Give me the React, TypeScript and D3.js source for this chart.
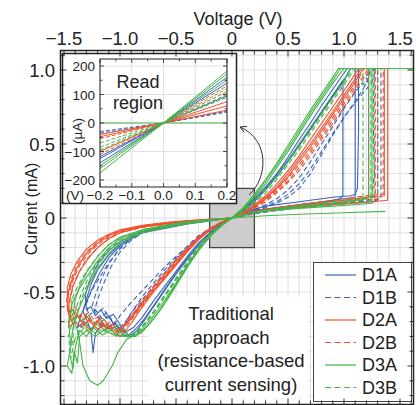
import React, { useEffect, useRef } from "react";
import * as d3 from "d3";

const width = 416;
const height = 405;
const font = "'Liberation Sans', Arial, sans-serif";

const devices = ["D1A", "D1B", "D2A", "D2B", "D3A", "D3B"];
const deviceColors = ["#3a64b8", "#3a64b8", "#f0502d", "#f0502d", "#44b549", "#44b549"];
const deviceDashed = [false, true, false, true, false, true];

// I-V sweeps, flat lists of voltage (V), current (mA) pairs
const d1aSweeps = [
  [0,0, 0.1,0.06, 0.2,0.13, 0.3,0.21, 0.4,0.3, 0.5,0.41, 0.6,0.53, 0.7,0.64, 0.8,0.76, 0.9,0.87, 1.0,0.98, 1.03,1.01,
   1.1,1.01, 1.1,0.55, 1.1,0.14,
   1.0,0.13, 0.8,0.11, 0.6,0.09, 0.4,0.07, 0.2,0.05, 0.1,0.03, 0,0,
   -0.2,-0.015, -0.4,-0.03, -0.6,-0.055, -0.8,-0.09, -0.9,-0.12, -1.0,-0.16, -1.1,-0.22, -1.2,-0.31, -1.27,-0.42, -1.31,-0.52,
   -1.3,-0.62, -1.26,-0.6, -1.22,-0.66, -1.17,-0.62, -1.12,-0.68, -1.06,-0.65, -1.0,-0.72, -0.95,-0.77,
   -0.88,-0.74, -0.8,-0.67, -0.7,-0.56, -0.6,-0.46, -0.5,-0.36, -0.4,-0.26, -0.3,-0.17, -0.2,-0.1, -0.1,-0.04, 0,0],
  [0,0, 0.1,0.05, 0.2,0.12, 0.3,0.2, 0.4,0.29, 0.5,0.39, 0.6,0.5, 0.7,0.61, 0.8,0.72, 0.9,0.83, 0.99,0.93,
   0.99,0.5, 0.99,0.15, 0.96,0.13,
   0.8,0.1, 0.6,0.08, 0.4,0.06, 0.2,0.04, 0.1,0.025, 0,0,
   -0.2,-0.02, -0.4,-0.04, -0.6,-0.07, -0.8,-0.1, -0.9,-0.13, -1.0,-0.18, -1.1,-0.25, -1.2,-0.35, -1.26,-0.45, -1.3,-0.55,
   -1.33,-0.63, -1.29,-0.7, -1.26,-0.76, -1.24,-0.91, -1.22,-0.78, -1.16,-0.72, -1.1,-0.75, -1.03,-0.73, -0.97,-0.79, -0.92,-0.8,
   -0.86,-0.77, -0.8,-0.71, -0.7,-0.6, -0.6,-0.49, -0.5,-0.38, -0.4,-0.28, -0.3,-0.19, -0.2,-0.11, -0.1,-0.05, 0,0],
  [0,0, 0.1,0.05, 0.2,0.11, 0.3,0.19, 0.4,0.28, 0.5,0.38, 0.6,0.49, 0.7,0.6, 0.8,0.71, 0.9,0.82, 1.0,0.93, 1.06,1.01,
   1.13,1.01, 1.13,0.6, 1.12,0.2, 1.1,0.16, 1.06,0.15,
   0.9,0.14, 0.7,0.12, 0.5,0.1, 0.3,0.08, 0.15,0.05, 0,0,
   -0.2,-0.015, -0.4,-0.035, -0.6,-0.06, -0.8,-0.1, -0.9,-0.14, -1.0,-0.19, -1.1,-0.27, -1.18,-0.37, -1.25,-0.48, -1.3,-0.57,
   -1.35,-0.66, -1.38,-0.74, -1.32,-0.7, -1.26,-0.75, -1.2,-0.7, -1.12,-0.74, -1.05,-0.71, -0.98,-0.76, -0.92,-0.79,
   -0.86,-0.75, -0.78,-0.68, -0.68,-0.57, -0.58,-0.46, -0.48,-0.35, -0.38,-0.25, -0.28,-0.16, -0.18,-0.09, -0.08,-0.035, 0,0],
];

const d1bSweeps = [
  [0,0, 0.1,0.02, 0.2,0.045, 0.3,0.07, 0.4,0.1, 0.5,0.14, 0.6,0.2, 0.7,0.3, 0.8,0.43, 0.9,0.56, 1.0,0.68, 1.1,0.79, 1.17,0.87, 1.21,0.93, 1.19,0.96, 1.24,0.98, 1.27,1.01,
   1.3,1.01, 1.3,0.6, 1.3,0.12,
   1.15,0.11, 0.9,0.09, 0.6,0.07, 0.4,0.05, 0.2,0.03, 0,0,
   -0.2,-0.01, -0.4,-0.03, -0.6,-0.05, -0.8,-0.09, -0.9,-0.13, -1.0,-0.2, -1.1,-0.31, -1.17,-0.42, -1.22,-0.52,
   -1.25,-0.6, -1.2,-0.64, -1.15,-0.61, -1.1,-0.67, -1.05,-0.72,
   -1.0,-0.66, -0.9,-0.57, -0.8,-0.49, -0.7,-0.41, -0.6,-0.33, -0.5,-0.26, -0.4,-0.19, -0.3,-0.12, -0.2,-0.07, -0.1,-0.03, 0,0],
  [0,0, 0.1,0.025, 0.2,0.055, 0.3,0.09, 0.4,0.13, 0.5,0.19, 0.6,0.27, 0.7,0.38, 0.8,0.5, 0.9,0.62, 1.0,0.74, 1.1,0.85, 1.16,0.91, 1.2,0.9, 1.22,0.96, 1.24,1.01,
   1.27,1.01, 1.26,0.7, 1.27,0.3, 1.25,0.14,
   1.1,0.12, 0.9,0.1, 0.6,0.08, 0.4,0.06, 0.2,0.035, 0,0,
   -0.2,-0.015, -0.4,-0.035, -0.6,-0.06, -0.8,-0.1, -0.9,-0.15, -1.0,-0.23, -1.08,-0.33, -1.15,-0.45, -1.2,-0.55,
   -1.23,-0.63, -1.18,-0.68, -1.12,-0.64, -1.06,-0.7, -1.0,-0.74,
   -0.95,-0.7, -0.88,-0.62, -0.8,-0.53, -0.7,-0.44, -0.6,-0.35, -0.5,-0.27, -0.4,-0.2, -0.3,-0.13, -0.2,-0.075, -0.1,-0.03, 0,0],
  [0,0, 0.1,0.02, 0.2,0.05, 0.3,0.08, 0.4,0.11, 0.5,0.16, 0.6,0.23, 0.7,0.33, 0.8,0.45, 0.9,0.57, 1.0,0.68, 1.1,0.78, 1.2,0.87, 1.25,0.92, 1.27,0.97, 1.3,1.01,
   1.33,1.01, 1.33,0.6, 1.33,0.13,
   1.2,0.12, 1.0,0.1, 0.7,0.08, 0.4,0.055, 0.2,0.03, 0,0,
   -0.2,-0.012, -0.4,-0.03, -0.6,-0.055, -0.8,-0.095, -0.9,-0.14, -1.0,-0.21, -1.1,-0.3, -1.18,-0.4, -1.26,-0.5, -1.3,-0.58,
   -1.28,-0.66, -1.22,-0.62, -1.16,-0.68, -1.1,-0.66, -1.04,-0.74, -1.0,-0.77,
   -0.96,-0.72, -0.9,-0.64, -0.8,-0.55, -0.7,-0.46, -0.6,-0.37, -0.5,-0.28, -0.4,-0.21, -0.3,-0.14, -0.2,-0.08, -0.1,-0.035, 0,0],
];

const d2aSweeps = [
  [0,0, 0.1,0.035, 0.2,0.08, 0.3,0.14, 0.4,0.21, 0.5,0.3, 0.6,0.4, 0.7,0.5, 0.8,0.61, 0.9,0.72, 1.0,0.83, 1.1,0.94, 1.15,1.01,
   1.22,1.01, 1.22,0.6, 1.22,0.14,
   1.1,0.13, 0.9,0.11, 0.6,0.085, 0.4,0.065, 0.2,0.04, 0.1,0.02, 0,0,
   -0.2,-0.01, -0.4,-0.02, -0.6,-0.035, -0.8,-0.055, -1.0,-0.09, -1.1,-0.12, -1.2,-0.17, -1.3,-0.24, -1.38,-0.33, -1.43,-0.42, -1.46,-0.5,
   -1.47,-0.6, -1.45,-0.68, -1.4,-0.63, -1.35,-0.7, -1.3,-0.66, -1.24,-0.72, -1.18,-0.68, -1.12,-0.74, -1.06,-0.72, -1.02,-0.77,
   -0.96,-0.73, -0.9,-0.68, -0.8,-0.58, -0.7,-0.49, -0.6,-0.4, -0.5,-0.31, -0.4,-0.22, -0.3,-0.14, -0.2,-0.08, -0.1,-0.03, 0,0],
  [0,0, 0.1,0.03, 0.2,0.075, 0.3,0.13, 0.4,0.2, 0.5,0.28, 0.6,0.38, 0.7,0.48, 0.8,0.59, 0.9,0.7, 1.0,0.81, 1.1,0.92, 1.17,1.01,
   1.36,1.01, 1.36,0.6, 1.36,0.15,
   1.2,0.14, 1.0,0.12, 0.7,0.1, 0.4,0.07, 0.2,0.045, 0.1,0.025, 0,0,
   -0.2,-0.008, -0.4,-0.018, -0.6,-0.03, -0.8,-0.05, -1.0,-0.08, -1.1,-0.11, -1.2,-0.15, -1.3,-0.21, -1.38,-0.29, -1.44,-0.38, -1.47,-0.47,
   -1.47,-0.58, -1.44,-0.66, -1.46,-0.74, -1.4,-0.7, -1.34,-0.74, -1.28,-0.69, -1.2,-0.75, -1.12,-0.72, -1.05,-0.78, -1.0,-0.8,
   -0.95,-0.76, -0.88,-0.69, -0.8,-0.6, -0.7,-0.5, -0.6,-0.41, -0.5,-0.32, -0.4,-0.23, -0.3,-0.15, -0.2,-0.085, -0.1,-0.035, 0,0],
  [0,0, 0.1,0.04, 0.2,0.09, 0.3,0.15, 0.4,0.23, 0.5,0.32, 0.6,0.42, 0.7,0.53, 0.8,0.64, 0.9,0.75, 1.0,0.86, 1.08,0.95, 1.13,1.01,
   1.39,1.01, 1.39,0.6, 1.39,0.12,
   1.25,0.11, 1.0,0.1, 0.7,0.08, 0.4,0.06, 0.2,0.04, 0,0,
   -0.2,-0.012, -0.4,-0.025, -0.6,-0.04, -0.8,-0.06, -1.0,-0.1, -1.1,-0.14, -1.2,-0.2, -1.28,-0.27, -1.36,-0.36, -1.42,-0.46, -1.45,-0.55,
   -1.46,-0.64, -1.42,-0.72, -1.38,-0.66, -1.32,-0.72, -1.26,-0.76, -1.2,-0.7, -1.14,-0.76, -1.08,-0.73, -1.02,-0.78,
   -0.97,-0.74, -0.9,-0.67, -0.8,-0.57, -0.7,-0.47, -0.6,-0.38, -0.5,-0.29, -0.4,-0.21, -0.3,-0.13, -0.2,-0.075, -0.1,-0.03, 0,0],
];

const d2bSweeps = [
  [0,0, 0.1,0.03, 0.2,0.07, 0.3,0.12, 0.4,0.18, 0.5,0.25, 0.6,0.34, 0.7,0.44, 0.8,0.55, 0.9,0.66, 1.0,0.77, 1.1,0.88, 1.2,0.99, 1.21,1.01,
   1.3,1.01, 1.3,0.6, 1.3,0.13,
   1.15,0.12, 0.9,0.1, 0.6,0.08, 0.4,0.06, 0.2,0.035, 0,0,
   -0.2,-0.01, -0.4,-0.02, -0.6,-0.035, -0.8,-0.055, -1.0,-0.085, -1.1,-0.115, -1.2,-0.16, -1.3,-0.23, -1.38,-0.31, -1.43,-0.4, -1.46,-0.48,
   -1.48,-0.58, -1.44,-0.64, -1.4,-0.6, -1.34,-0.67, -1.28,-0.64, -1.22,-0.7, -1.15,-0.68, -1.08,-0.74, -1.03,-0.77,
   -0.98,-0.74, -0.9,-0.67, -0.8,-0.57, -0.7,-0.48, -0.6,-0.39, -0.5,-0.3, -0.4,-0.21, -0.3,-0.135, -0.2,-0.075, -0.1,-0.03, 0,0],
  [0,0, 0.1,0.03, 0.2,0.065, 0.3,0.11, 0.4,0.17, 0.5,0.24, 0.6,0.32, 0.7,0.42, 0.8,0.53, 0.9,0.64, 1.0,0.75, 1.1,0.86, 1.2,0.97, 1.23,1.01,
   1.35,1.01, 1.35,0.6, 1.35,0.16,
   1.2,0.15, 1.0,0.13, 0.7,0.1, 0.4,0.07, 0.2,0.045, 0,0,
   -0.2,-0.01, -0.4,-0.022, -0.6,-0.038, -0.8,-0.06, -1.0,-0.095, -1.1,-0.13, -1.2,-0.18, -1.28,-0.24, -1.36,-0.32, -1.42,-0.42, -1.46,-0.52,
   -1.47,-0.62, -1.43,-0.7, -1.38,-0.65, -1.33,-0.72, -1.27,-0.68, -1.2,-0.73, -1.13,-0.7, -1.07,-0.76, -1.03,-0.8,
   -0.97,-0.76, -0.9,-0.69, -0.8,-0.59, -0.7,-0.49, -0.6,-0.4, -0.5,-0.31, -0.4,-0.22, -0.3,-0.14, -0.2,-0.08, -0.1,-0.035, 0,0],
  [0,0, 0.1,0.035, 0.2,0.075, 0.3,0.125, 0.4,0.19, 0.5,0.27, 0.6,0.36, 0.7,0.46, 0.8,0.57, 0.9,0.68, 1.0,0.79, 1.1,0.9, 1.18,1.01,
   1.27,1.01, 1.27,0.6, 1.27,0.11,
   1.1,0.1, 0.8,0.085, 0.5,0.065, 0.3,0.05, 0.15,0.03, 0,0,
   -0.2,-0.012, -0.4,-0.025, -0.6,-0.042, -0.8,-0.065, -1.0,-0.1, -1.1,-0.14, -1.2,-0.2, -1.3,-0.28, -1.37,-0.37, -1.42,-0.46, -1.44,-0.54,
   -1.43,-0.62, -1.38,-0.68, -1.33,-0.64, -1.27,-0.7, -1.2,-0.67, -1.14,-0.73, -1.08,-0.7, -1.02,-0.76,
   -0.96,-0.72, -0.88,-0.64, -0.8,-0.56, -0.7,-0.46, -0.6,-0.37, -0.5,-0.28, -0.4,-0.2, -0.3,-0.13, -0.2,-0.07, -0.1,-0.03, 0,0],
];

const d3aSweeps = [
  [0,0, 0.1,0.07, 0.2,0.16, 0.3,0.26, 0.4,0.37, 0.5,0.49, 0.6,0.61, 0.7,0.73, 0.8,0.84, 0.9,0.95, 0.95,1.01,
   1.25,1.01, 1.25,0.6, 1.25,0.1,
   1.1,0.09, 0.8,0.075, 0.5,0.06, 0.3,0.045, 0.15,0.03, 0,0,
   -0.2,-0.015, -0.4,-0.03, -0.6,-0.055, -0.8,-0.085, -1.0,-0.14, -1.1,-0.2, -1.2,-0.29, -1.3,-0.4, -1.38,-0.5, -1.43,-0.58,
   -1.46,-0.7, -1.44,-0.86, -1.47,-1.0, -1.43,-1.05, -1.41,-0.9, -1.38,-0.98, -1.36,-0.8, -1.3,-0.76, -1.22,-0.8, -1.15,-0.76, -1.05,-0.79, -0.95,-0.8, -0.86,-0.8,
   -0.8,-0.77, -0.72,-0.7, -0.65,-0.63, -0.6,-0.57, -0.5,-0.45, -0.4,-0.33, -0.3,-0.22, -0.2,-0.13, -0.1,-0.055, 0,0],
  // this sweep starts on the return branch and ends on the compliance beyond the frame
  [1.37,0.045, 1.0,0.035, 0.6,0.025, 0.3,0.015, 0,0,
   -0.2,-0.01, -0.4,-0.025, -0.6,-0.05, -0.8,-0.08, -1.0,-0.13, -1.1,-0.18, -1.2,-0.26, -1.3,-0.37, -1.36,-0.46, -1.4,-0.55,
   -1.42,-0.66, -1.38,-0.76, -1.36,-0.84, -1.33,-1.0, -1.27,-1.1, -1.2,-1.13, -1.15,-1.1, -1.07,-1.0, -1.02,-0.91, -0.94,-0.82, -0.86,-0.79,
   -0.8,-0.75, -0.72,-0.68, -0.65,-0.61, -0.58,-0.53, -0.5,-0.44, -0.4,-0.32, -0.3,-0.21, -0.2,-0.12, -0.1,-0.05, 0,0,
   0.1,0.065, 0.2,0.15, 0.3,0.25, 0.4,0.36, 0.5,0.47, 0.6,0.59, 0.7,0.71, 0.8,0.82, 0.9,0.93, 0.97,1.01,
   1.7,1.01],
  [0,0, 0.1,0.06, 0.2,0.14, 0.3,0.23, 0.4,0.34, 0.5,0.45, 0.6,0.57, 0.7,0.69, 0.8,0.8, 0.9,0.91, 1.0,1.01,
   1.22,1.01, 1.22,0.6, 1.22,0.13,
   1.1,0.12, 0.9,0.1, 0.6,0.08, 0.4,0.06, 0.2,0.04, 0,0,
   -0.2,-0.02, -0.4,-0.04, -0.6,-0.065, -0.8,-0.1, -1.0,-0.17, -1.1,-0.24, -1.2,-0.34, -1.27,-0.44, -1.32,-0.53,
   -1.37,-0.62, -1.42,-0.74, -1.45,-0.92, -1.42,-1.02, -1.4,-0.88, -1.36,-0.76, -1.3,-0.8, -1.24,-0.74, -1.16,-0.79, -1.08,-0.76, -1.0,-0.8, -0.9,-0.79, -0.83,-0.78,
   -0.77,-0.74, -0.7,-0.68, -0.62,-0.6, -0.55,-0.52, -0.47,-0.42, -0.38,-0.31, -0.28,-0.2, -0.18,-0.11, -0.08,-0.045, 0,0],
];

const d3bSweeps = [
  [0,0, 0.1,0.045, 0.2,0.11, 0.3,0.19, 0.4,0.28, 0.5,0.38, 0.6,0.48, 0.7,0.59, 0.8,0.7, 0.9,0.81, 1.0,0.92, 1.08,1.01,
   1.17,1.01, 1.17,0.6, 1.17,0.12,
   1.05,0.11, 0.8,0.09, 0.5,0.07, 0.3,0.05, 0.15,0.03, 0,0,
   -0.2,-0.012, -0.4,-0.028, -0.6,-0.05, -0.8,-0.08, -1.0,-0.13, -1.1,-0.18, -1.2,-0.26, -1.3,-0.36, -1.37,-0.45, -1.42,-0.53,
   -1.44,-0.64, -1.41,-0.74, -1.43,-0.86, -1.39,-0.8, -1.34,-0.72, -1.27,-0.77, -1.2,-0.72, -1.12,-0.77, -1.04,-0.74, -0.96,-0.79, -0.9,-0.8,
   -0.84,-0.77, -0.76,-0.7, -0.68,-0.62, -0.6,-0.53, -0.5,-0.41, -0.4,-0.3, -0.3,-0.2, -0.2,-0.11, -0.1,-0.045, 0,0],
  [0,0, 0.1,0.04, 0.2,0.1, 0.3,0.17, 0.4,0.26, 0.5,0.36, 0.6,0.46, 0.7,0.57, 0.8,0.68, 0.9,0.79, 1.0,0.9, 1.1,1.01,
   1.28,1.01, 1.28,0.6, 1.28,0.14,
   1.15,0.13, 0.9,0.11, 0.6,0.085, 0.4,0.065, 0.2,0.04, 0,0,
   -0.2,-0.015, -0.4,-0.032, -0.6,-0.056, -0.8,-0.09, -1.0,-0.15, -1.1,-0.21, -1.2,-0.3, -1.28,-0.4, -1.34,-0.5, -1.38,-0.58,
   -1.42,-0.68, -1.46,-0.8, -1.44,-0.95, -1.41,-0.84, -1.36,-0.78, -1.3,-0.72, -1.22,-0.78, -1.14,-0.74, -1.06,-0.79, -0.98,-0.77, -0.92,-0.81,
   -0.86,-0.78, -0.78,-0.71, -0.7,-0.63, -0.62,-0.54, -0.52,-0.43, -0.42,-0.32, -0.32,-0.21, -0.22,-0.125, -0.1,-0.045, 0,0],
  [0,0, 0.1,0.05, 0.2,0.12, 0.3,0.2, 0.4,0.29, 0.5,0.39, 0.6,0.5, 0.7,0.61, 0.8,0.72, 0.9,0.83, 1.0,0.94, 1.06,1.01,
   1.24,1.01, 1.24,0.6, 1.24,0.11,
   1.1,0.1, 0.8,0.085, 0.5,0.065, 0.3,0.05, 0.15,0.03, 0,0,
   -0.2,-0.018, -0.4,-0.036, -0.6,-0.06, -0.8,-0.095, -1.0,-0.16, -1.1,-0.22, -1.18,-0.3, -1.25,-0.39, -1.31,-0.48, -1.35,-0.56,
   -1.38,-0.64, -1.34,-0.7, -1.28,-0.66, -1.22,-0.72, -1.15,-0.69, -1.08,-0.75, -1.0,-0.72, -0.94,-0.77, -0.88,-0.79,
   -0.82,-0.75, -0.74,-0.68, -0.66,-0.6, -0.58,-0.51, -0.48,-0.4, -0.38,-0.29, -0.28,-0.19, -0.18,-0.1, -0.08,-0.04, 0,0],
];

const sweepsByDevice = [d1aSweeps, d1bSweeps, d2aSweeps, d2bSweeps, d3aSweeps, d3bSweeps];

// read region: current (uA) at -0.2 V and +0.2 V for each read
const readD1A = [[-140, 160], [-125, 140], [-118, 95]];
const readD1B = [[-30, 38], [-36, 42]];
const readD2A = [[-40, 45], [-48, 60], [-100, 75]];
const readD2B = [[-55, 110], [-110, 130]];
const readD3A = [[-175, 182], [-160, 172], [-150, 150], [0, 0]];
const readD3B = [[-70, 100], [-85, 120], [-95, 90]];
const readsByDevice = [readD1A, readD1B, readD2A, readD2B, readD3A, readD3B];
const readVoltages = [-0.2, 0.2];

const xTicks = [-1.5, -1, -0.5, 0, 0.5, 1, 1.5];
const xTickLabels = ["\u22121.5", "\u22121.0", "\u22120.5", "0", "0.5", "1.0", "1.5"];
const yTicks = [1, 0.5, 0, -0.5, -1];
const yTickLabels = ["1.0", "0.5", "0", "-0.5", "-1.0"];
const insetXTicks = [-0.2, -0.1, 0, 0.1, 0.2];
const insetXTickLabels = ["\u22120.2", "\u22120.1", "0.0", "0.1", "0.2"];
const insetYTicks = [200, 100, 0, -100, -200];
const insetYTickLabels = ["200", "100", "0", "\u2212100", "\u2212200"];
const noteLines = ["Traditional", "approach", "(resistance-based", "current sensing)"];

const pairs = (arr: number[]) => d3.range(0, arr.length, 2).map(k => [arr[k], arr[k + 1]] as [number, number]);

export default function App() {
  const ref = useRef<SVGSVGElement>(null);

  useEffect(() => {
    const svg = d3.select(ref.current);
    svg.selectAll("*").remove();

    const x = d3.scaleLinear().domain([-1.5, 1.5]).range([64, 400]);
    const y = d3.scaleLinear().domain([-1, 1]).range([366, 70]);
    const L = 60.5, R = 413.5, T = 50.5, B = 404.5;

    svg.append("rect").attr("width", width).attr("height", height).attr("fill", "#fff");

    const defs = svg.append("defs");
    defs.append("clipPath").attr("id", "plotClip")
      .append("rect").attr("x", L).attr("y", T).attr("width", R - L).attr("height", B - T);

    // grid
    const grid = svg.append("g").attr("stroke", "#d8d8d8").attr("stroke-width", 0.8);
    d3.range(-15, 17).forEach(k => {
      const v = k / 10;
      grid.append("line").attr("x1", x(v)).attr("x2", x(v)).attr("y1", T).attr("y2", B);
    });
    d3.range(-12, 12).forEach(k => {
      const c = k / 10;
      grid.append("line").attr("x1", L).attr("x2", R).attr("y1", y(c)).attr("y2", y(c));
    });

    // white box behind the note
    svg.append("rect").attr("x", 148).attr("y", 297).attr("width", 160).attr("height", 101).attr("fill", "#fff");

    // read window
    svg.append("rect")
      .attr("x", x(readVoltages[0])).attr("y", y(0.2))
      .attr("width", x(readVoltages[1]) - x(readVoltages[0]))
      .attr("height", y(-0.2) - y(0.2))
      .attr("fill", "#cdcdcd").attr("stroke", "#444").attr("stroke-width", 1.3);

    // sweeps
    const line = d3.line<[number, number]>()
      .x(d => x(d[0])).y(d => y(d[1]));
    const curves = svg.append("g").attr("clip-path", "url(#plotClip)").attr("fill", "none")
      .attr("stroke-linejoin", "round");
    sweepsByDevice.forEach((sweeps, i) => {
      curves.append("g")
        .selectAll("path")
        .data(sweeps)
        .join("path")
        .attr("d", d => line(pairs(d)))
        .attr("stroke", deviceColors[i])
        .attr("stroke-width", 1.1)
        .attr("stroke-dasharray", deviceDashed[i] ? "5,3" : null);
    });

    // inset
    const ix = d3.scaleLinear().domain([-0.2, 0.2]).range([100, 227]);
    const iy = d3.scaleLinear().domain([-200, 200]).range([180, 66]);
    const iT = 59, iB = 187;
    svg.append("rect").attr("x", 62.5).attr("y", 53.5).attr("width", 174).attr("height", 150)
      .attr("fill", "#fff").attr("stroke", "#222").attr("stroke-width", 1.5);
    defs.append("clipPath").attr("id", "insetClip")
      .append("rect").attr("x", ix(-0.2)).attr("y", iT).attr("width", ix(0.2) - ix(-0.2)).attr("height", iB - iT);
    const igrid = svg.append("g").attr("stroke", "#d8d8d8").attr("stroke-width", 0.8);
    insetXTicks.forEach(v => igrid.append("line").attr("x1", ix(v)).attr("x2", ix(v)).attr("y1", iT).attr("y2", iB));
    insetYTicks.forEach(c => igrid.append("line").attr("x1", ix(-0.2)).attr("x2", ix(0.2)).attr("y1", iy(c)).attr("y2", iy(c)));

    const icurves = svg.append("g").attr("clip-path", "url(#insetClip)").attr("fill", "none");
    readsByDevice.forEach((reads, i) => {
      icurves.append("g")
        .selectAll("path")
        .data(reads)
        .join("path")
        .attr("d", d => d3.line<[number, number]>().x(p => ix(p[0])).y(p => iy(p[1]))([
          [readVoltages[0], d[0]], [0, 0], [readVoltages[1], d[1]],
        ]))
        .attr("stroke", deviceColors[i])
        .attr("stroke-width", 1)
        .attr("stroke-dasharray", deviceDashed[i] ? "4,2" : null);
    });
    svg.append("rect").attr("x", ix(-0.2)).attr("y", iT).attr("width", ix(0.2) - ix(-0.2)).attr("height", iB - iT)
      .attr("fill", "none").attr("stroke", "#222").attr("stroke-width", 1);

    const iticks = svg.append("g").attr("stroke", "#222").attr("stroke-width", 0.8);
    d3.range(-4, 5).forEach(k => {
      const v = k / 20;
      const len = k % 2 === 0 ? 4 : 2.5;
      iticks.append("line").attr("x1", ix(v)).attr("x2", ix(v)).attr("y1", iB).attr("y2", iB - len);
      iticks.append("line").attr("x1", ix(v)).attr("x2", ix(v)).attr("y1", iT).attr("y2", iT + len);
    });
    d3.range(-4, 5).forEach(k => {
      const c = k * 50;
      const len = k % 2 === 0 ? 4 : 2.5;
      iticks.append("line").attr("x1", ix(-0.2)).attr("x2", ix(-0.2) + len).attr("y1", iy(c)).attr("y2", iy(c));
      iticks.append("line").attr("x1", ix(0.2)).attr("x2", ix(0.2) - len).attr("y1", iy(c)).attr("y2", iy(c));
    });

    const itext = svg.append("g").attr("font-family", font).attr("font-size", 13.5).attr("fill", "#222");
    itext.selectAll(".ixl").data(insetXTicks).join("text")
      .attr("x", d => ix(d)).attr("y", 200).attr("text-anchor", "middle")
      .text((d, k) => insetXTickLabels[k]);
    itext.append("text").attr("x", 75).attr("y", 200).attr("text-anchor", "middle").text("(V)");
    itext.selectAll(".iyl").data(insetYTicks).join("text")
      .attr("x", 95).attr("y", d => iy(d) + 5).attr("text-anchor", "end")
      .text((d, k) => insetYTickLabels[k]);
    itext.append("text").attr("transform", "translate(82,131) rotate(-90)").attr("text-anchor", "middle").text("(\u00b5A)");

    const rtext = svg.append("g").attr("font-family", font).attr("font-size", 18).attr("fill", "#222").attr("text-anchor", "middle");
    rtext.append("text").attr("x", 138).attr("y", 88).text("Read");
    rtext.append("text").attr("x", 138).attr("y", 109).text("region");

    // arrow
    const p0: [number, number] = [249, 195], c1: [number, number] = [268, 178], c2: [number, number] = [270, 140], p1: [number, number] = [240, 127];
    svg.append("path")
      .attr("d", `M${p0}C${c1} ${c2} ${p1}`)
      .attr("fill", "none").attr("stroke", "#333").attr("stroke-width", 1);
    const ang = Math.atan2(p1[1] - c2[1], p1[0] - c2[0]);
    const head = [ang + Math.PI - 0.5, ang + Math.PI + 0.5].map(a => [p1[0] + 7 * Math.cos(a), p1[1] + 7 * Math.sin(a)]);
    svg.append("path")
      .attr("d", `M${head[0]}L${p1}L${head[1]}`)
      .attr("fill", "none").attr("stroke", "#333").attr("stroke-width", 1);

    // note
    svg.append("g").attr("font-family", font).attr("font-size", 18.5).attr("fill", "#222").attr("text-anchor", "middle")
      .selectAll("text").data(noteLines).join("text")
      .attr("x", 231).attr("y", (d, k) => 320 + k * 23.5)
      .text(d => d);

    // legend
    const leg = svg.append("g");
    leg.append("rect").attr("x", 313.5).attr("y", 262.5).attr("width", 98).attr("height", 139)
      .attr("fill", "#fff").attr("stroke", "#444").attr("stroke-width", 1);
    devices.forEach((name, i) => {
      const yy = 275 + i * 22.5;
      leg.append("line").attr("x1", 325).attr("x2", 356).attr("y1", yy).attr("y2", yy)
        .attr("stroke", deviceColors[i]).attr("stroke-width", 1.2)
        .attr("stroke-dasharray", deviceDashed[i] ? "6,3.5" : null);
      leg.append("text").attr("x", 362).attr("y", yy + 6).attr("font-family", font).attr("font-size", 18)
        .attr("fill", "#222").text(name);
    });

    // frame and ticks
    const ticks = svg.append("g").attr("stroke", "#222").attr("stroke-width", 0.9);
    d3.range(-15, 17).forEach(k => {
      const v = k / 10;
      const len = k % 5 === 0 ? 6 : 4;
      ticks.append("line").attr("x1", x(v)).attr("x2", x(v)).attr("y1", T).attr("y2", T + len);
      ticks.append("line").attr("x1", x(v)).attr("x2", x(v)).attr("y1", B).attr("y2", B - len);
    });
    d3.range(-12, 12).forEach(k => {
      const c = k / 10;
      const len = k % 5 === 0 ? 6 : 4;
      ticks.append("line").attr("x1", L).attr("x2", L + len).attr("y1", y(c)).attr("y2", y(c));
      ticks.append("line").attr("x1", R).attr("x2", R - len).attr("y1", y(c)).attr("y2", y(c));
    });
    svg.append("rect").attr("x", L).attr("y", T).attr("width", R - L).attr("height", B - T)
      .attr("fill", "none").attr("stroke", "#222").attr("stroke-width", 1.5);

    // axis labels
    const lab = svg.append("g").attr("font-family", font).attr("fill", "#222");
    lab.selectAll(".xl").data(xTicks).join("text")
      .attr("x", d => x(d)).attr("y", 45).attr("text-anchor", "middle").attr("font-size", 18.5)
      .text((d, k) => xTickLabels[k]);
    lab.selectAll(".yl").data(yTicks).join("text")
      .attr("x", 55).attr("y", d => y(d) + 6.5).attr("text-anchor", "end").attr("font-size", 18.5)
      .text((d, k) => yTickLabels[k]);
    lab.append("text").attr("x", 238).attr("y", 25).attr("text-anchor", "middle").attr("font-size", 18)
      .text("Voltage (V)");
    lab.append("text").attr("transform", "translate(37,209) rotate(-90)").attr("text-anchor", "middle")
      .attr("font-size", 16).text("Current (mA)");
  }, []);

  return (
    <svg
      ref={ref}
      width={width}
      height={height}
      viewBox={`0 0 ${width} ${height}`}
      style={{ position: "absolute", left: 0, top: 0 }}
    ></svg>
  );
}
